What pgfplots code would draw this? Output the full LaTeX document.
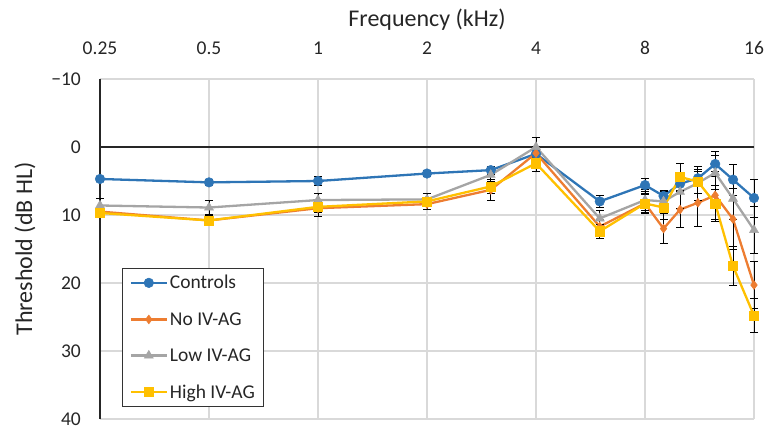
\documentclass[border=0pt]{standalone}
\usepackage{pgfplots}
\usepackage{pgfplotstable}
\pgfplotsset{compat=1.18}
\usepackage{fontspec}
\setmainfont{Carlito}
\definecolor{cblue}{RGB}{46,117,182}
\definecolor{corange}{RGB}{237,125,49}
\definecolor{cgray}{RGB}{165,165,165}
\definecolor{cyellow}{RGB}{255,192,0}
\definecolor{cgrid}{RGB}{217,217,217}

\pgfplotstableread{
f    c   ce   n    ne   l    le   h    he
0.25 4.7 0.4  9.5  0.6  8.6  1.0  9.7  0.5
0.5  5.2 0.4  10.8 0.6  8.9  1.0  10.8 0.8
1    5.0 0.6  9.0  1.2  7.8  1.0  8.8  0.8
2    3.9 0.4  8.4  0.8  7.7  0.8  8.0  0.6
3    3.4 0.6  6.3  1.5  4.1  1.0  5.8  1.0
4    1.0 0.6  0.9  1.0  0.0  1.4  2.4  1.2
6    8.0 0.9  11.7 1.0  10.5 1.2  12.4 1.0
8    5.6 1.0  8.3  1.5  7.8  1.5  8.3  1.3
9    7.2 0.8  12.0 2.2  8.0  1.5  8.9  1.8
10   5.4 1.2  9.2  2.7  6.6  2.5  4.4  2.0
11.2 4.6 1.0  8.2  3.5  5.3  2.5  5.1  1.8
12.5 2.5 1.8  7.1  3.5  3.8  2.5  8.3  2.7
14   4.8 2.3  10.6 4.5  7.6  3.0  17.5 2.9
16   7.5 2.8  20.3 3.5  12.2 3.5  24.8 2.5
}\data

\begin{document}
\begin{tikzpicture}
\begin{axis}[
  name=ax,
  scale only axis, width=654bp, height=340bp,
  xmode=log, log basis x=2,
  xmin=0.25, xmax=16, ymin=-10, ymax=40,
  y dir=reverse,
  xtick={0.25,0.5,1,2,4,8,16},
  xticklabels={0.25,0.5,1,2,4,8,16},
  ytick={-10,0,10,20,30,40},
  yticklabels={−10,0,10,20,30,40},
  xticklabel pos=top,
  major tick length=0pt,
  axis line style={draw=none},
  grid=major,
  grid style={cgrid, line width=1.2bp},
  tick label style={font=\fontsize{19.5bp}{22bp}\selectfont, text=black!85},
  xticklabel style={inner sep=0pt, yshift=24bp},
  yticklabel style={inner sep=0pt, xshift=-19bp},
  xlabel={Frequency (kHz)},
  label style={font=\fontsize{24bp}{28bp}\selectfont, text=black!85},
  xlabel style={at={(axis description cs:0.5,1)}, anchor=center, yshift=59bp},
  legend style={at={(axis description cs:0.034,0.035)}, anchor=south west,
     draw=black!80, line width=0.9bp, fill=white,
     font=\fontsize{19.5bp}{22bp}\selectfont,
     row sep=18bp, inner xsep=7bp, inner ysep=5bp,
     nodes={inner xsep=2bp, text=black!85}},
  legend cell align=left,
  legend image code/.code={\draw[mark repeat=2,mark phase=2] plot coordinates {(0bp,0bp)(18bp,0bp)(36bp,0bp)};},
  every axis plot/.append style={line width=2.3bp},
  error bars/y dir=both, error bars/y explicit,
  error bars/error bar style={black, line width=0.9bp},
  error bars/error mark options={rotate=90, mark size=4bp, black, line width=0.9bp},
  clip=false,
]
\draw[cgrid, line width=1.2bp] (axis cs:16,-10) -- (axis cs:16,40);
\draw[black!85, line width=1.2bp] (axis cs:0.25,0) -- (axis cs:16,0);
\draw[black!85, line width=1.2bp] (axis cs:0.25,-10) -- (axis cs:0.25,40);
\node[rotate=90, anchor=center, font=\fontsize{24bp}{28bp}\selectfont, text=black!85]
  at ([xshift=-75bp]axis description cs:0,0.5) {Threshold (dB HL)};
\addplot[color=cblue, mark=*, mark size=4.8bp, mark options={solid, fill=cblue, draw=cblue, line width=0.5bp}]
  table[x=f, y=c, y error=ce] {\data};
\addlegendentry{Controls}
\addplot[color=corange, mark=diamond*, mark size=4.4bp, mark options={solid, fill=corange, draw=corange, line width=0.5bp}]
  table[x=f, y=n, y error=ne] {\data};
\addlegendentry{No IV-AG}
\addplot[color=cgray, mark=triangle*, mark size=5.2bp, mark options={solid, fill=cgray, draw=cgray, line width=0.5bp}]
  table[x=f, y=l, y error=le] {\data};
\addlegendentry{Low IV-AG}
\addplot[color=cyellow, mark=square*, mark size=4.6bp, mark options={solid, fill=cyellow, draw=cyellow, line width=0.5bp}]
  table[x=f, y=h, y error=he] {\data};
\addlegendentry{High IV-AG}
\end{axis}
\path ([xshift=-100bp, yshift=-8bp]ax.south west) rectangle ([xshift=13bp, yshift=79bp]ax.north east);
\end{tikzpicture}
\end{document}
